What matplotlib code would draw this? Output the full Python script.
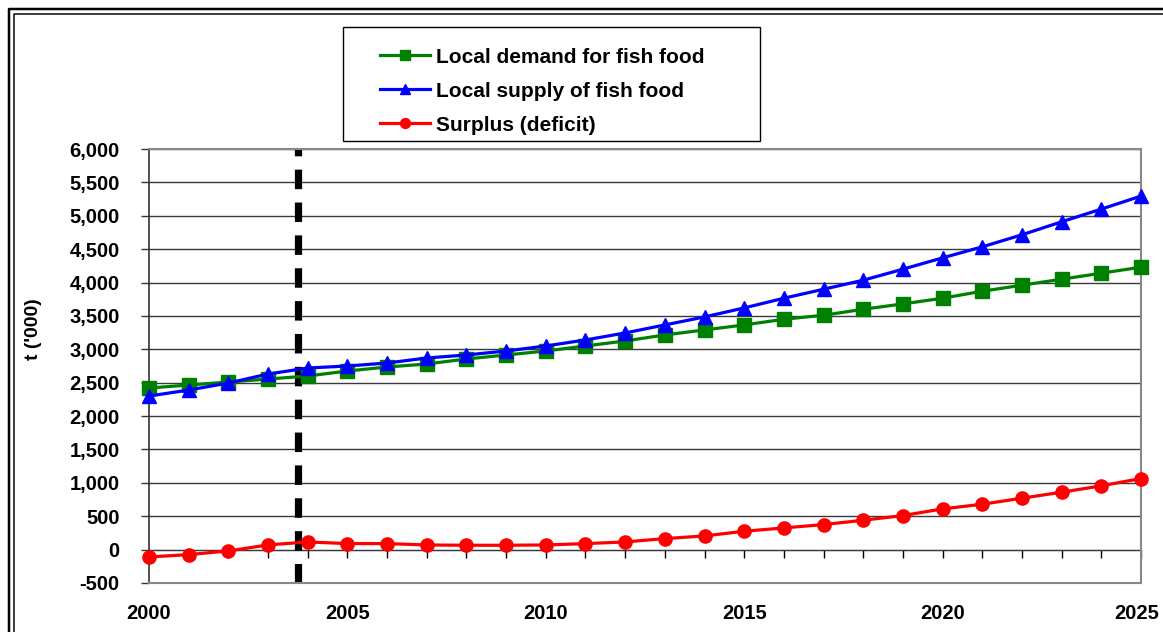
import numpy as np
import matplotlib
matplotlib.use("Agg")
import matplotlib.pyplot as plt
from matplotlib.lines import Line2D
from matplotlib.patches import Rectangle
from matplotlib.ticker import FuncFormatter, MultipleLocator
from matplotlib.transforms import ScaledTranslation

plt.rcParams['font.family'] = ['Liberation Sans', 'DejaVu Sans']
plt.rcParams['font.weight'] = 'bold'

years = list(range(2000, 2026))
demand = [2420, 2465, 2510, 2555, 2600, 2675, 2735, 2780, 2855, 2915,
          2975, 3050, 3125, 3215, 3290, 3365, 3450, 3510, 3600, 3680,
          3765, 3870, 3960, 4050, 4140, 4230]
supply = [2300, 2390, 2495, 2630, 2720, 2750, 2795, 2870, 2915, 2975,
          3050, 3140, 3245, 3365, 3485, 3620, 3765, 3900, 4035, 4200,
          4370, 4535, 4715, 4910, 5100, 5295]
surplus = [-110, -75, -20, 70, 115, 90, 90, 70, 65, 65,
           70, 90, 115, 165, 205, 275, 325, 375, 440, 510,
           610, 680, 770, 860, 955, 1065]
base_year = 2003.75

fig = plt.figure(figsize=(11.63, 6.32), dpi=100)
ax = fig.add_axes([149 / 1163, 1 - 583 / 632, (1141 - 149) / 1163, (583 - 149) / 632])

ax.set_xlim(2000, 2025)
ax.set_ylim(-500, 6000)
ax.yaxis.set_major_locator(MultipleLocator(500))
ax.yaxis.set_major_formatter(FuncFormatter(lambda v, p: f"{int(v):,}"))
ax.set_xticks([2000, 2005, 2010, 2015, 2020, 2025])
ax.tick_params(axis='x', length=0, pad=15, labelsize=14.5)
ax.tick_params(axis='y', length=6, width=1, pad=15, labelsize=14.5, color='#333333')
ax.grid(axis='y', color='#3a3a3a', lw=1)
ax.set_axisbelow(True)
for s in ['top', 'right', 'bottom']:
    ax.spines[s].set_color('#888888')
    ax.spines[s].set_linewidth(1.5)
ax.spines['left'].set_color('#333333')
ax.spines['left'].set_linewidth(1.2)

# last year label nudged left so it stays inside the frame
last = ax.get_xticklabels()[-1]
last.set_transform(last.get_transform() + ScaledTranslation(-4 / 100, 0, fig.dpi_scale_trans))

# category axis crossing at zero, with a tick for every year
sec = ax.secondary_xaxis(500 / 6500)
sec.set_xticks(years)
sec.tick_params(length=6, width=1, color='black', labelbottom=False)
sec.spines['bottom'].set_color('#3a3a3a')

ax.set_ylabel("t ('000)", fontsize=14, fontweight='bold')
ax.yaxis.set_label_coords((42 - 149) / 992, (583 - 329) / 434)

ax.axvline(base_year, color='black', lw=5.2, dashes=(2.7, 1.85), zorder=2)

l1, = ax.plot(years, demand, color='#008000', lw=2.3, marker='s', ms=9.5, clip_on=False, zorder=3,
              label='Local demand for fish food')
l2, = ax.plot(years, supply, color='#0000ff', lw=2.3, marker='^', ms=10, clip_on=False, zorder=4,
              label='Local supply of fish food')
l3, = ax.plot(years, surplus, color='#ff0000', lw=2.3, marker='o', ms=9.5, clip_on=False, zorder=3,
              label='Surplus (deficit)')

# legend box
fig.patches.append(Rectangle((343 / 1163, 1 - 141 / 632), (760 - 343) / 1163, (141 - 27) / 632,
                             transform=fig.transFigure, fill=False, ec='black', lw=1))
fig.legend(handles=[l1, l2, l3], loc='upper left', bbox_to_anchor=(361 / 1163, 1 - 29 / 632),
           frameon=False, fontsize=15, handlelength=2.4, handletextpad=0.3,
           labelspacing=0.72, markerscale=0.75)

# double frame around the chart
for off, lw in [(9, 2.5), (13.5, 1.5)]:
    fig.add_artist(Line2D([off, off, 1200], [-10, 632 - off, 632 - off], transform=None,
                          color='black', lw=lw * 0.72))

fig.savefig("out.png", dpi=100)
